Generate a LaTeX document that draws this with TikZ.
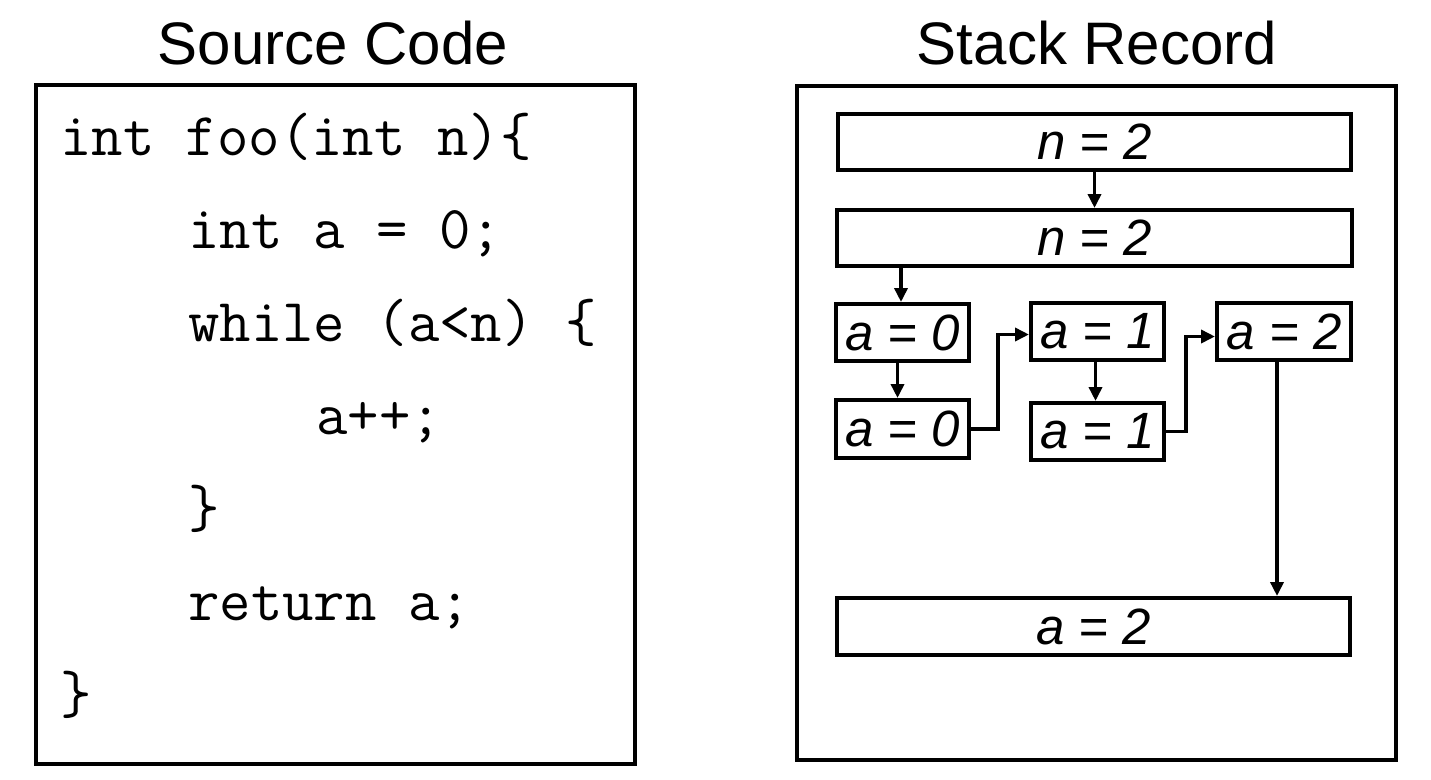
\documentclass[tikz,border=0pt]{standalone}
\usepackage{fontspec}
\setmainfont{Liberation Sans}
\usetikzlibrary{arrows.meta}
\tikzset{
  frame/.style={draw, line width=4pt, inner sep=0pt},
  cell/.style={draw, line width=4pt, inner sep=0pt, minimum height=57pt,
    font=\fontsize{51}{51}\selectfont\itshape},
  codeline/.style={anchor=base west, inner sep=0pt,
    font=\ttfamily\fontsize{61}{61}\selectfont},
  title/.style={anchor=base, inner sep=0pt, font=\fontsize{60}{60}\selectfont},
  conn/.style={line width=3.8pt, -{Triangle[length=14pt,width=13pt]}}
}
\begin{document}
\begin{tikzpicture}[x=1pt,y=-1pt]
\useasboundingbox (0,0) rectangle (1431,779);
% titles
\node[title] (t1) at (333,64) {Source Code};
\node[title] (t2) at (1097,64) {Stack Record};
% outer frames
\node[frame, minimum width=599pt, minimum height=679pt] (src) at (335.5,424.5) {};
\node[frame, minimum width=599pt, minimum height=674pt] (stk) at (1096.5,423) {};
% code
\node[codeline] (c1) at (60,155) {int foo(int n)\{};
\node[codeline] (c2) at (188,248) {int a = 0;};
\node[codeline] (c3) at (188,341) {while (a<n) \{};
\node[codeline] (c4) at (316,434) {a++;};
\node[codeline] (c5) at (188,527) {\}};
\node[codeline] (c6) at (188,620) {return a;};
\node[codeline] (c7) at (60,713) {\}};
% stack cells
\node[cell, minimum width=513pt, minimum height=56pt] (n1) at (1094.5,142) {n = 2};
\node[cell, minimum width=515pt, minimum height=56pt] (n2) at (1094.5,238) {n = 2};
\node[cell, minimum width=133pt] (a0a) at (902.5,332.5) {a = 0};
\node[cell, minimum width=133pt] (a1a) at (1097.5,331.5) {a = 1};
\node[cell, minimum width=134pt] (a2a) at (1284,331.5) {a = 2};
\node[cell, minimum width=133pt, minimum height=58pt] (a0b) at (902.5,429) {a = 0};
\node[cell, minimum width=133pt] (a1b) at (1097.5,431.5) {a = 1};
\node[cell, minimum width=513pt] (a2b) at (1093.5,626.5) {a = 2};
% connectors
\draw[conn] (n1.south) -- (n1.south |- n2.north);
\draw[conn] ([xshift=-1.5pt]a0a.north |- n2.south) -- ([xshift=-1.5pt]a0a.north);
\draw[conn] ([xshift=-5pt]a0a.south) -- ([xshift=-5pt]a0a.south |- a0b.north);
\draw[conn] ([xshift=-2pt]a1a.south) -- ([xshift=-2pt]a1a.south |- a1b.north);
\draw[conn] (a0b.east) -- ++(27,0) |- ([yshift=-3pt]a1a.west);
\draw[conn] (a1b.east) -- ++(20,0) |- ([yshift=-5pt]a2a.west);
\draw[conn] ([xshift=-7pt]a2a.south) -- ([xshift=-7pt]a2a.south |- a2b.north);
\end{tikzpicture}
\end{document}
